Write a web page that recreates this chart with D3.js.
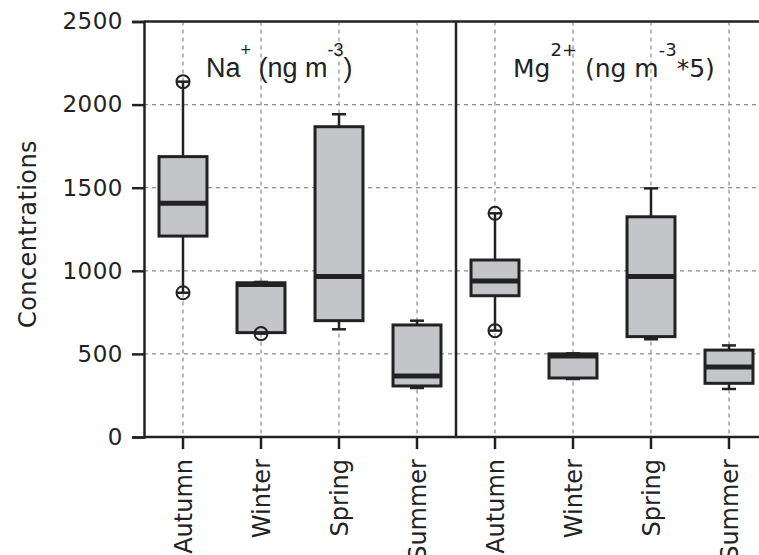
<!DOCTYPE html>
<html>
<head>
<meta charset="utf-8">
<script src="https://cdn.jsdelivr.net/npm/d3@7"></script>
<style>
  html, body { margin: 0; padding: 0; background: #fff; }
  svg { display: block; }
</style>
</head>
<body>
<svg id="chart" width="759" height="555"></svg>
<script>
// ---- data ----
const seasons = ["Autumn", "Winter", "Spring", "Summer"];
const yTicks = [0, 500, 1000, 1500, 2000, 2500];

// Na+ (ng m-3)
const naMin    = [868, 622, 648, 295];
const naQ1     = [1209, 628, 700, 307];
const naMedian = [1406, 918, 965, 367];
const naQ3     = [1687, 928, 1867, 674];
const naMax    = [2138, 933, 1942, 700];
const naOutliers = [[868, 2138], [622], [], []];

// Mg2+ (ng m-3 * 5)
const mgMin    = [640, 349, 588, 289];
const mgQ1     = [850, 355, 604, 323];
const mgMedian = [939, 488, 965, 421];
const mgQ3     = [1065, 500, 1325, 523];
const mgMax    = [1346, 503, 1496, 551];
const mgOutliers = [[640, 1346], [], [], []];

// ---- layout ----
const svg = d3.select("#chart");
const pLeft = 144, pMid = 456, pRight = 768, pTop = 21.5, pBottom = 437;
const ink = "#222";

const y = d3.scaleLinear().domain([0, 2500]).range([pBottom, pTop]);
const xL = d3.scaleBand().domain(seasons).range([pLeft, pMid]);
const xR = d3.scaleBand().domain(seasons).range([pMid, pRight]);

// grid
const grid = svg.append("g").attr("stroke", "#8c8c8c").attr("stroke-width", 1.2)
  .attr("stroke-dasharray", "4,4").attr("fill", "none");
yTicks.filter(v => v > 0 && v < 2500).forEach(v => {
  grid.append("line").attr("x1", pLeft).attr("x2", pRight).attr("y1", y(v)).attr("y2", y(v));
});
[xL, xR].forEach(xs => seasons.forEach(s => {
  const cx = xs(s) + xs.bandwidth() / 2;
  grid.append("line").attr("x1", cx).attr("x2", cx).attr("y1", pTop).attr("y2", pBottom);
}));

// boxes
function drawPanel(xs, mn, q1, md, q3, mx, outl) {
  const g = svg.append("g");
  const bw = xs.bandwidth() * 0.615;
  const capW = 14;
  seasons.forEach((s, i) => {
    const cx = xs(s) + xs.bandwidth() / 2;
    g.append("line").attr("x1", cx).attr("x2", cx).attr("y1", y(q3[i])).attr("y2", y(mx[i]))
      .attr("stroke", ink).attr("stroke-width", 2.5);
    g.append("line").attr("x1", cx).attr("x2", cx).attr("y1", y(q1[i])).attr("y2", y(mn[i]))
      .attr("stroke", ink).attr("stroke-width", 2.5);
    [mn[i], mx[i]].forEach(v => {
      g.append("line").attr("x1", cx - capW / 2).attr("x2", cx + capW / 2)
        .attr("y1", y(v)).attr("y2", y(v)).attr("stroke", ink).attr("stroke-width", 2.5);
    });
    g.append("rect").attr("x", cx - bw / 2).attr("width", bw)
      .attr("y", y(q3[i])).attr("height", y(q1[i]) - y(q3[i]))
      .attr("fill", "#c4c5c8").attr("stroke", ink).attr("stroke-width", 3);
    g.append("line").attr("x1", cx - bw / 2).attr("x2", cx + bw / 2)
      .attr("y1", y(md[i])).attr("y2", y(md[i])).attr("stroke", ink).attr("stroke-width", 5);
    outl[i].forEach(v => {
      g.append("circle").attr("cx", cx).attr("cy", y(v)).attr("r", 6.5)
        .attr("fill", "none").attr("stroke", ink).attr("stroke-width", 2);
    });
  });
}
drawPanel(xL, naMin, naQ1, naMedian, naQ3, naMax, naOutliers);
drawPanel(xR, mgMin, mgQ1, mgMedian, mgQ3, mgMax, mgOutliers);

// frame
const frame = svg.append("g").attr("stroke", ink).attr("stroke-width", 2.5).attr("fill", "none");
frame.append("line").attr("x1", pLeft).attr("x2", pRight).attr("y1", pTop).attr("y2", pTop);
frame.append("line").attr("x1", pLeft).attr("x2", pRight).attr("y1", pBottom).attr("y2", pBottom);
frame.append("line").attr("x1", pMid).attr("x2", pMid).attr("y1", pTop).attr("y2", pBottom);

// y axis
const yAxis = d3.axisLeft(y).tickValues(yTicks).tickSize(12).tickPadding(9).tickFormat(d3.format("d"));
const gy = svg.append("g").attr("transform", `translate(${pLeft},0)`).call(yAxis);
gy.select(".domain").attr("stroke", ink).attr("stroke-width", 2.5);
gy.selectAll(".tick line").attr("stroke", ink).attr("stroke-width", 2.5);
gy.selectAll(".tick text").attr("fill", ink).style("font-family", "DejaVu Sans")
  .style("font-size", "23px").attr("letter-spacing", "0.5px");

// x axes
[xL, xR].forEach(xs => {
  const ax = d3.axisBottom(xs).tickSize(12).tickSizeOuter(0).tickFormat("");
  const gx = svg.append("g").attr("transform", `translate(0,${pBottom})`).call(ax);
  gx.select(".domain").remove();
  gx.selectAll(".tick line").attr("stroke", ink).attr("stroke-width", 2.5);
  seasons.forEach(s => {
    const cx = xs(s) + xs.bandwidth() / 2;
    svg.append("text")
      .attr("transform", `translate(${cx},459) rotate(-90)`)
      .attr("text-anchor", "end").attr("dy", "0.36em")
      .attr("fill", ink).style("font-family", "DejaVu Sans").style("font-size", "24px")
      .text(s);
  });
});

// y label
svg.append("text")
  .attr("transform", `translate(36,234) rotate(-90)`)
  .attr("text-anchor", "middle")
  .attr("fill", ink).style("font-family", "DejaVu Sans").style("font-size", "24px")
  .attr("letter-spacing", "0.4px")
  .text("Concentrations");

// panel titles
const t1 = svg.append("text").attr("x", 206).attr("y", 77).attr("fill", ink)
  .style("font-family", "Liberation Sans").style("font-size", "27px");
t1.append("tspan").text("Na");
t1.append("tspan").attr("dy", -21).style("font-size", "18px").text("+");
t1.append("tspan").attr("dy", 21).text("\u00a0(ng m");
t1.append("tspan").attr("dy", -21).style("font-size", "18px").text("-3");
t1.append("tspan").attr("dy", 21).text(")");

const t2 = svg.append("text").attr("x", 513).attr("y", 77).attr("fill", ink)
  .style("font-family", "DejaVu Sans").style("font-size", "25px");
t2.append("tspan").text("Mg");
t2.append("tspan").attr("dy", -21).style("font-size", "18px").text("2+");
t2.append("tspan").attr("dy", 21).text(" (ng m");
t2.append("tspan").attr("dy", -21).style("font-size", "18px").text("-3");
t2.append("tspan").attr("dy", 21).text("*5)");
</script>
</body>
</html>
